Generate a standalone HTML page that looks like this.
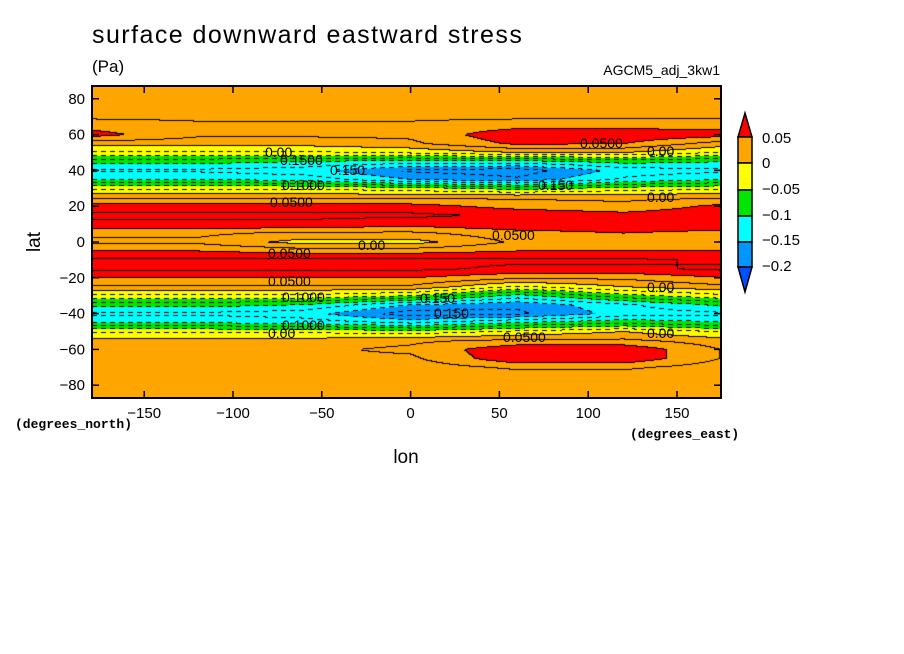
<!DOCTYPE html>
<html><head><meta charset="utf-8"><style>
body{margin:0;background:#fff;width:904px;height:654px;overflow:hidden;position:relative;font-family:"Liberation Sans",sans-serif}
.t{position:absolute;white-space:nowrap;color:#000}
</style></head><body>
<div class="t" style="left:92px;top:21px;font-size:25px;letter-spacing:1.45px">surface downward eastward stress</div>
<div class="t" style="left:92px;top:57px;font-size:17px">(Pa)</div>
<div class="t" style="right:184px;top:62px;font-size:14px">AGCM5_adj_3kw1</div>
<svg id="svg" width="904" height="654" style="position:absolute;left:0;top:0">
<foreignObject x="92" y="86" width="629" height="312"><canvas id="cv" width="629" height="312" xmlns="http://www.w3.org/1999/xhtml"></canvas></foreignObject>
<g id="axes"></g>
</svg>
<script>
const lons=[-180,-120,-60,0,60,120,180];
const lats=[90,85,80,75,70,65,60,55,50,45,40,35,30,25,20,15,10,5,0,-5,-10,-15,-20,-25,-30,-35,-40,-45,-50,-55,-60,-65,-70,-75,-80,-85,-90];
const colM180=[0.01,0.01,0.01,0.015,0.02,0.04,0.06,0.01,-0.03,-0.09,-0.13,-0.1,-0.03,0.02,0.06,0.08,0.07,0.03,0.02,0.05,0.08,0.08,0.05,0.02,-0.03,-0.09,-0.13,-0.1,-0.03,0.01,0.02,0.02,0.01,0.01,0.01,0.01,0.01];
const colM120=[0.01,0.01,0.01,0.015,0.02,0.03,0.03,0.01,-0.03,-0.09,-0.13,-0.1,-0.03,0.02,0.06,0.08,0.07,0.03,0.02,0.05,0.08,0.08,0.05,0.02,-0.03,-0.09,-0.13,-0.1,-0.03,0.01,0.02,0.02,0.01,0.01,0.01,0.01,0.01];
const colM60=[0.01,0.01,0.01,0.015,0.02,0.03,0.03,0.01,-0.03,-0.1,-0.14,-0.11,-0.03,0.02,0.06,0.08,0.07,0.02,-0.01,0.04,0.08,0.08,0.05,0.02,-0.03,-0.1,-0.14,-0.11,-0.03,0.01,0.02,0.02,0.01,0.01,0.01,0.01,0.01];
const col0=[0.01,0.01,0.01,0.015,0.02,0.03,0.03,0.02,-0.02,-0.11,-0.18,-0.15,-0.04,0.02,0.06,0.08,0.06,0.02,-0.01,0.04,0.08,0.08,0.05,0.02,-0.05,-0.15,-0.19,-0.13,-0.04,0.02,0.03,0.02,0.01,0.01,0.01,0.01,0.01];
const col60=[0.01,0.01,0.01,0.015,0.02,0.04,0.07,0.055,0.0,-0.11,-0.19,-0.17,-0.06,0.02,0.04,0.07,0.07,0.04,0.03,0.05,0.08,0.07,0.03,-0.03,-0.11,-0.17,-0.18,-0.1,-0.02,0.03,0.07,0.07,0.03,0.01,0.01,0.01,0.01];
const col120=[0.01,0.01,0.01,0.015,0.02,0.04,0.07,0.05,0.0,-0.09,-0.14,-0.12,-0.04,0.02,0.03,0.06,0.07,0.05,0.03,0.05,0.08,0.07,0.03,0.0,-0.06,-0.13,-0.14,-0.08,0.0,0.03,0.07,0.07,0.03,0.01,0.01,0.01,0.01];
const col180=[0.01,0.01,0.01,0.015,0.02,0.04,0.06,0.01,-0.03,-0.1,-0.13,-0.1,-0.03,0.02,0.06,0.07,0.07,0.04,0.03,0.05,0.07,0.08,0.05,0.02,-0.03,-0.09,-0.13,-0.1,-0.03,0.01,0.02,0.02,0.01,0.01,0.01,0.01,0.01];
const cols=[colM180,colM120,colM60,col0,col60,col120,col180];
const levels=[-0.2,-0.15,-0.1,-0.05,0,0.05];
const colors=['#0050ff','#0096ff','#00ffff','#00e600','#ffff00','#ffa500','#ff0000'];
const lonTicks=[-150,-100,-50,0,50,100,150];
const latTicks=[80,60,40,20,0,-20,-40,-60,-80];
const cbLabels=['0.05','0','\u22120.05','\u22120.1','\u22120.15','\u22120.2'];
const X0=92,Y0=86,W=629,H=312;
const xs=lon=>410.6+1.776*lon, ys=lat=>242-1.79*lat;
function val(lon,lat){
  let i=0;while(i<lons.length-2&&lon>lons[i+1])i++;
  let tx=(lon-lons[i])/(lons[i+1]-lons[i]);
  let j=0;while(j<lats.length-2&&lat<lats[j+1])j++;
  let ty=(lats[j]-lat)/(lats[j]-lats[j+1]);
  const a=cols[i][j]*(1-ty)+cols[i][j+1]*ty, b=cols[i+1][j]*(1-ty)+cols[i+1][j+1]*ty;
  return a*(1-tx)+b*tx;
}
function lvl(v){let k=0;while(k<levels.length&&v>=levels[k])k++;return k;}
const cv=document.getElementById('cv');

const ctx=cv.getContext('2d');const img=ctx.createImageData(W,H);
const rgb=colors.map(c=>[parseInt(c.slice(1,3),16),parseInt(c.slice(3,5),16),parseInt(c.slice(5,7),16)]);
const V=[];
for(let y=0;y<H;y++){V.push([]);for(let x=0;x<W;x++){const lon=(X0+x-410.6)/1.776, lat=(242-(Y0+y))/1.79;V[y].push(val(lon,lat));}}
const F=v=>Math.floor(v/0.025);
for(let y=0;y<H;y++)for(let x=0;x<W;x++){
  const v=V[y][x];const k=lvl(v);let c=rgb[k];
  const f=F(v);
  const fx=x+1<W?F(V[y][x+1]):f, fy=y+1<H?F(V[y+1][x]):f;
  if(f!==fx||f!==fy){
    const neg=Math.max(f,fx,fy)<0;
    if(!neg || (x%9)<5) c=[0,0,0];
  }
  const p=(y*W+x)*4;img.data[p]=c[0];img.data[p+1]=c[1];img.data[p+2]=c[2];img.data[p+3]=255;
}
ctx.putImageData(img,0,0);
const NS='http://www.w3.org/2000/svg',g=document.getElementById('axes');
function mk(tag,at,txt){const e=document.createElementNS(NS,tag);for(const k in at)e.setAttribute(k,at[k]);if(txt!==undefined)e.textContent=txt;g.appendChild(e);return e;}
const fr=mk('rect',{x:X0,y:Y0,width:W,height:H,fill:'none',stroke:'#000','stroke-width':2});


lonTicks.forEach(t=>{const x=xs(t);
  const l=mk('line',{x1:x,x2:x,y1:Y0+H,y2:Y0+H-7,stroke:'#000','stroke-width':1.5});
  
  
  mk('line',{x1:x,x2:x,y1:Y0,y2:Y0+7,stroke:'#000','stroke-width':1.5});
  const tx=mk('text',{x:x,y:418,'text-anchor':'middle','font-size':15,'font-family':'Liberation Sans, sans-serif'},t<0?'\u2212'+(-t):String(t));
  
  
});
latTicks.forEach(t=>{const y=ys(t);
  const l=mk('line',{x1:X0,x2:X0+7,y1:y,y2:y,stroke:'#000','stroke-width':1.5});
  
  
  mk('line',{x1:X0+W,x2:X0+W-7,y1:y,y2:y,stroke:'#000','stroke-width':1.5});
  const tx=mk('text',{x:85,y:y+5,'text-anchor':'end','font-size':15,'font-family':'Liberation Sans, sans-serif'},t<0?'\u2212'+(-t):String(t));
  
  
});
const labs=[[265,157,'0.00'],[280,165,'0.1500'],[330,175,'0.150'],[282,190,'0.1000'],[270,207,'0.0500'],[580,148,'0.0500'],[647,156,'0.00'],[538,190,'0.150'],[647,202,'0.00'],[268,258,'0.0500'],[358,250,'0.00'],[492,240,'0.0500'],[268,286,'0.0500'],[282,302,'0.1000'],[420,303,'0.150'],[434,318,'0.150'],[282,330,'0.1000'],[268,338,'0.00'],[503,342,'0.0500'],[647,292,'0.00'],[647,338,'0.00']];
labs.forEach(a=>{const tx=mk('text',{x:a[0],y:a[1],'font-size':14,'font-family':'Liberation Sans, sans-serif'},a[2]);
  
  });
const cbT=[137,163,190,216,242,267];
const tri1=mk('polygon',{points:'738,137 752,137 745,113',fill:colors[6],stroke:'#000','stroke-width':1.5});


for(let k=0;k<5;k++){const r=mk('rect',{x:738,y:cbT[k],width:14,height:cbT[k+1]-cbT[k],fill:colors[5-k],stroke:'#000','stroke-width':1.5});
  
  }
const tri2=mk('polygon',{points:'738,267 752,267 745,292',fill:colors[0],stroke:'#000','stroke-width':1.5});


cbLabels.forEach((s,k)=>{const tx=mk('text',{x:762,y:[143,168,194,220,245,271][k],'font-size':15,'font-family':'Liberation Sans, sans-serif'},s);
  
  });
const a1=mk('text',{x:40,y:242,'text-anchor':'middle','font-size':19,transform:'rotate(-90 40 242)','font-family':'Liberation Sans, sans-serif'},'lat');


const a2=mk('text',{x:406,y:463,'text-anchor':'middle','font-size':19,'font-family':'Liberation Sans, sans-serif'},'lon');


const u1=mk('text',{x:15,y:428,'font-size':13,'font-family':'Liberation Mono, monospace','font-weight':'bold'},'(degrees_north)');


const u2=mk('text',{x:630,y:438,'font-size':13,'font-family':'Liberation Mono, monospace','font-weight':'bold'},'(degrees_east)');


</script>
</body></html>
